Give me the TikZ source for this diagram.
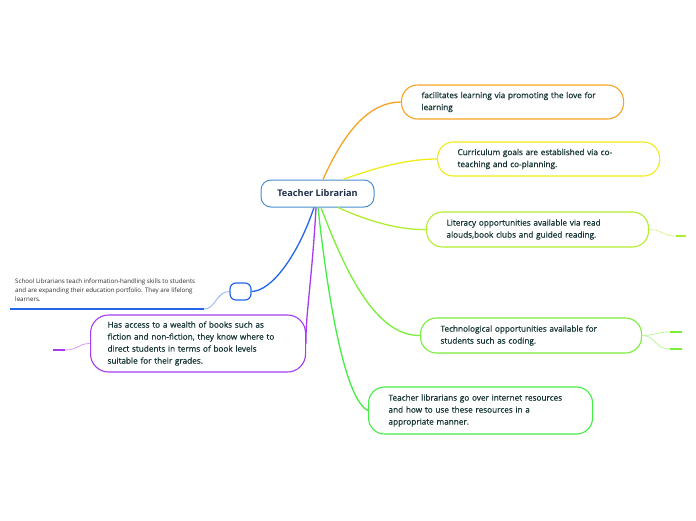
\documentclass[tikz,border=0pt]{standalone}
\usepackage{fontspec}
\setmainfont{Open Sans}
\newfontfamily\topicfont{Open Sans}[FakeBold=0.6]
\usetikzlibrary{calc}
\definecolor{Ink}{HTML}{173535}
\definecolor{Navy}{HTML}{1C2E4A}
\definecolor{Grey}{HTML}{2E2E2E}
\definecolor{HubBlue}{HTML}{4A90D0}
\definecolor{Orange}{HTML}{F7A325}
\definecolor{Yellow}{HTML}{F0EC1A}
\definecolor{Lime}{HTML}{B2EE30}
\definecolor{Leaf}{HTML}{7AEE3A}
\definecolor{Grass}{HTML}{44EE44}
\definecolor{Violet}{HTML}{A63CF0}
\definecolor{Blue}{HTML}{2266EE}

\begin{document}
\begin{tikzpicture}[x=1pt,y=1pt,every node/.style={text=Ink,font=\topicfont\fontsize{8.2}{12}\selectfont},topic/.style={draw=#1,line width=1.1pt,fill=white,rounded corners=16pt,align=left,inner xsep=20pt,inner ysep=0pt,anchor=west},branch/.style={draw=#1,line width=1.3pt},twig/.style={draw=#1!50,line width=0.8pt},stub/.style={draw=#1,line width=2.2pt}]
\useasboundingbox (0,0) rectangle (696,-520);
\fill[white] (0,0) rectangle (696,-520);

% central topic
\node[draw=HubBlue,line width=1pt,fill=white,rounded corners=10pt,minimum width=113pt,minimum height=27pt,font=\bfseries\fontsize{9.2}{11}\selectfont,text=Navy] (Hub) at (317.5,-193.5) {Teacher Librarian};

% main topics
\node[topic=Orange,text width=182pt,minimum height=34pt] (Love) at (401,-102) {facilitates learning via promoting the love for\\learning};
\node[topic=Yellow,text width=182pt,minimum height=34pt] (Plan) at (437,-159) {Curriculum goals are established via co-\\teaching and co-planning.};
\node[topic=Lime,text width=182pt,minimum height=35pt] (Read) at (426,-229.5) {Literacy opportunities available via read\\alouds,book clubs and guided reading.};
\node[topic=Leaf,text width=181pt,minimum height=35pt] (Tech) at (420,-335.5) {Technological opportunities available for\\students such as coding.};
\node[topic=Grass,text width=184pt,minimum height=47pt] (Web) at (368,-410.5) {Teacher librarians go over internet resources\\and how to use these resources in a\\appropriate manner.};
\node[topic=Violet,inner xsep=17pt,text width=181pt,minimum height=57pt,rounded corners=18pt] (Books) at (90,-343.5) {Has access to a wealth of books such as\\fiction and non-fiction, they know where to\\direct students in terms of book levels\\suitable for their grades.};
\node[draw=Blue,line width=1.2pt,fill=white,rounded corners=6pt,minimum width=21pt,minimum height=17pt,inner sep=0pt] (Skill) at (240.5,-291.5) {};
\node[anchor=north west,inner sep=0pt,align=left,text=Grey,font=\fontsize{6.2}{9}\selectfont] (SkillTxt) at (15,-279) {School Librarians teach information-handling skills to students\\and are expanding their education portfolio. They are lifelong\\learners.};

% branches
\draw[branch=Orange] ([xshift=5.5pt]Hub.north) .. controls (345,-130) and (370,-102) .. (Love.west);
\draw[branch=Yellow] ([xshift=25.5pt]Hub.north) .. controls (380,-166) and (410,-159) .. (Plan.west);
\draw[branch=Lime] ([xshift=20.5pt]Hub.south) .. controls (370,-222) and (400,-230) .. (Read.west);
\draw[branch=Leaf] ([xshift=3.5pt]Hub.south) .. controls (350,-285) and (380,-336) .. (Tech.west);
\draw[branch=Grass] ([xshift=0.5pt]Hub.south) .. controls (328,-300) and (345,-400) .. (Web.west);
\draw[branch=Violet] ([xshift=-1.5pt]Hub.south) .. controls (312,-280) and (305,-320) .. (Books.east);
\draw[branch=Blue] ([xshift=-3.5pt]Hub.south) .. controls (298,-255) and (272,-291) .. (Skill.east);

% sub-topic stubs
\coordinate (ReadA) at (676,-236); \coordinate (ReadB) at (686,-236);
\draw[twig=Lime] (Read.east) .. controls (662,-229.5) and (662,-236) .. (ReadA); \draw[stub=Lime] (ReadA) -- (ReadB);
\coordinate (TechA) at (670,-332); \coordinate (TechB) at (682,-332); \coordinate (TechC) at (670,-349); \coordinate (TechD) at (682,-349);
\draw[twig=Leaf] (Tech.east) .. controls (655,-335.5) and (655,-332) .. (TechA); \draw[twig=Leaf] (Tech.east) .. controls (655,-335.5) and (655,-349) .. (TechC);
\draw[stub=Leaf] (TechA) -- (TechB); \draw[stub=Leaf] (TechC) -- (TechD);
\coordinate (BooksA) at (65,-350); \coordinate (BooksB) at (53,-350);
\draw[twig=Violet] (Books.west) .. controls (78,-343.5) and (78,-350) .. (BooksA); \draw[stub=Violet] (BooksA) -- (BooksB);
\coordinate (SkillA) at (204,-309); \coordinate (SkillB) at (10,-309);
\draw[twig=Blue] (Skill.west) .. controls (216,-291.5) and (216,-309) .. (SkillA); \draw[stub=Blue,line width=1.6pt] (SkillA) -- (SkillB);

\end{tikzpicture}
\end{document}
